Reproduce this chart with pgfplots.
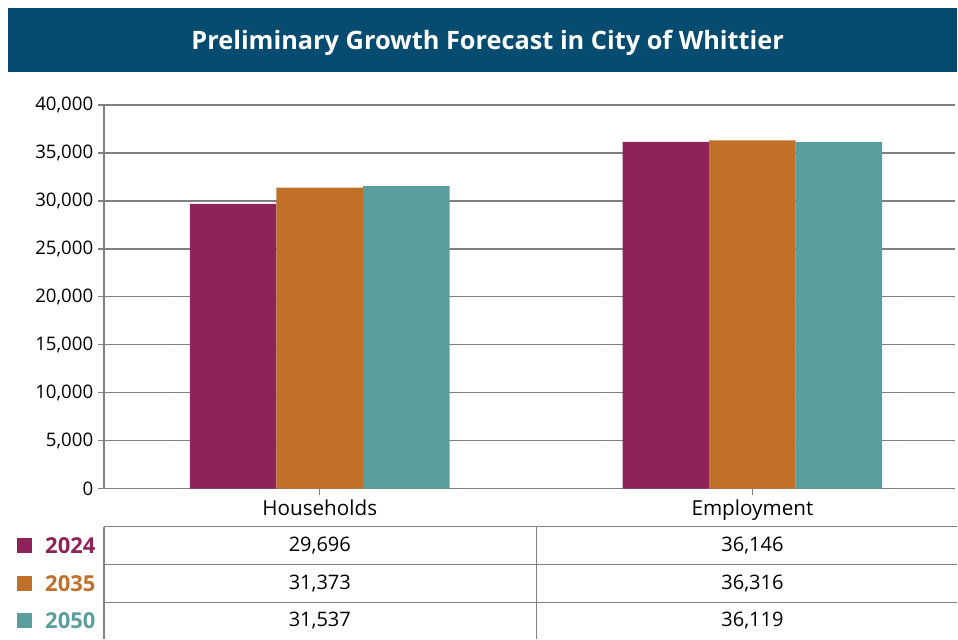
\documentclass[border=0pt]{standalone}
\usepackage{fontspec}
\setmainfont{Open Sans}
\usepackage{pgfplots}
\pgfplotsset{compat=1.18}
\definecolor{banner}{HTML}{064C70}
\definecolor{cA}{HTML}{8E2359}
\definecolor{cB}{HTML}{C1702A}
\definecolor{cC}{HTML}{5A9F9D}
\definecolor{gridc}{HTML}{808080}

\begin{document}
\begin{tikzpicture}
\begin{scope}[x=0.75pt,y=-0.75pt]
\useasboundingbox (0,0) rectangle (958,639);
\fill[banner] (8,8) rectangle (958,72);
\node[text=white,font=\bfseries\fontsize{19}{23}\selectfont] at (488,43) {Preliminary Growth Forecast in City of Whittier};
\end{scope}

\begin{axis}[
    at={(78pt,-366.75pt)}, anchor=south west,
    scale only axis, width=639pt, height=288pt,
    xmin=-0.4988, xmax=1.469, ymin=0, ymax=40000,
    axis x line=bottom, axis y line=left,
    axis line style={gridc, line width=1pt, -},
    ymajorgrids, grid style={gridc, line width=1pt},
    tick style={gridc, line width=1pt},
    tick align=outside, major tick length=4.5pt,
    xtick={0,1}, xticklabels={Households,Employment},
    ytick={0,5000,...,40000},
    scaled y ticks=false,
    yticklabel style={font=\fontsize{14}{16}\selectfont, text=black,
      /pgf/number format/fixed, /pgf/number format/1000 sep={,},
      /pgf/number format/assume math mode=true},
    xticklabel style={font=\fontsize{15.5}{18}\selectfont, text=black},
    ybar=0pt, bar width=0.2,
    every axis plot/.append style={draw=none},
  ]
  \addplot[fill=cA, bar shift=-0.2] coordinates {(0,29696) (1,36146)};
  \addplot[fill=cB, bar shift=0] coordinates {(0,31373) (1,36316)};
  \addplot[fill=cC, bar shift=0.2] coordinates {(0,31537) (1,36119)};
\end{axis}

\begin{scope}[x=0.75pt,y=-0.75pt]
  \draw[gridc, line width=1pt] (104,527) -- (958,527) (104,565) -- (958,565) (104,603) -- (958,603)
        (104,527) -- (104,639) (537,527) -- (537,639);
  \foreach \c/\yr/\yy/\a/\b in {cA/2024/546/29{,}696/36{,}146, cB/2035/584/31{,}373/36{,}316, cC/2050/621/31{,}537/36{,}119}{
    \fill[\c] (17,\yy-8) rectangle (32,\yy+7);
    \node[anchor=west, text=\c, font=\bfseries\fontsize{16.5}{19}\selectfont, inner sep=0pt] at (45,\yy) {\yr};
    \node[font=\fontsize{15}{18}\selectfont] at (320,\yy) {\a};
    \node[font=\fontsize{15}{18}\selectfont] at (753,\yy) {\b};
  }
\end{scope}
\end{tikzpicture}
\end{document}
